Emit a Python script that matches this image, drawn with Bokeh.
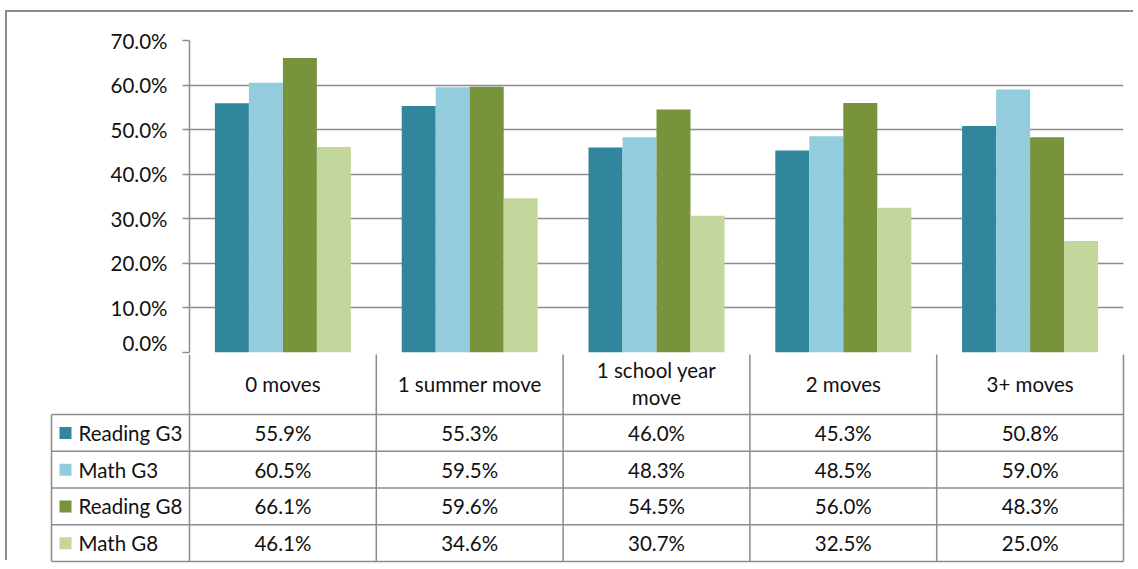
from bokeh.plotting import figure
from bokeh.models import Range1d, FixedTicker, Div
from bokeh.core.properties import value
from bokeh.embed import file_html
from bokeh.resources import INLINE

# ---------------- data ----------------
categories = ["0 moves", "1 summer move", "1 school year\nmove", "2 moves", "3+ moves"]
series_names = ["Reading G3", "Math G3", "Reading G8", "Math G8"]
reading_g3 = [55.9, 55.3, 46.0, 45.3, 50.8]
math_g3 = [60.5, 59.5, 48.3, 48.5, 59.0]
reading_g8 = [66.1, 59.6, 54.5, 56.0, 48.3]
math_g8 = [46.1, 34.6, 30.7, 32.5, 25.0]
y_ticks = [0, 10, 20, 30, 40, 50, 60, 70]
y_tick_labels = ["0.0%", "10.0%", "20.0%", "30.0%", "40.0%", "50.0%", "60.0%", "70.0%"]

series_values = [reading_g3, math_g3, reading_g8, math_g8]
colors = ["#31859C", "#93CDDD", "#77933C", "#C3D69B"]

# ---------------- layout constants ----------------
FONT = "Lato"
FS = "20.5px"
TXT = "#111111"
GRID = "#8c8c8c"
W = 1138
H_TOP = 354
H_BOT = 215
PLOT_LEFT = 189
PLOT_RIGHT = 15
N = len(categories)
CAT_PX = (W - PLOT_LEFT - PLOT_RIGHT) / N
BAR_W = 0.182
LEGEND_COL_PX = 138
HEADER_H = 60
ROW_H = 36.75

# ---------------- bar chart ----------------
p = figure(width=W, height=H_TOP, output_backend="svg", toolbar_location=None,
           x_range=Range1d(0, N), y_range=Range1d(0, 70), x_axis_type=None,
           min_border_left=PLOT_LEFT, min_border_right=PLOT_RIGHT,
           min_border_top=40, min_border_bottom=2, outline_line_color=None,
           border_fill_color=None, background_fill_color=None)

for j, (vals, col) in enumerate(zip(series_values, colors)):
    xs = [i + 0.5 + (j - 1.5) * BAR_W for i in range(N)]
    p.vbar(x=xs, top=vals, bottom=0, width=BAR_W, fill_color=col, line_color=None)

p.xgrid.visible = False
p.ygrid.ticker = FixedTicker(ticks=y_ticks)
p.ygrid.grid_line_color = GRID
p.ygrid.grid_line_width = 1.5
ax = p.yaxis[0]
ax.ticker = FixedTicker(ticks=y_ticks)
ax.major_label_overrides = {t: l for t, l in zip(y_ticks, y_tick_labels)}
ax.axis_line_color = GRID
ax.axis_line_width = 1.5
ax.major_tick_line_color = GRID
ax.major_tick_line_width = 1.5
ax.major_tick_out = 7
ax.major_tick_in = 0
ax.minor_tick_line_color = None
ax.major_label_standoff = 15
ax.major_label_text_font = FONT
ax.major_label_text_font_size = FS
ax.major_label_text_color = TXT

# ---------------- data table ----------------
x0 = -PLOT_LEFT / CAT_PX
x1 = N + PLOT_RIGHT / CAT_PX
t = figure(width=W, height=H_BOT, output_backend="svg", toolbar_location=None,
           x_range=Range1d(x0, x1), y_range=Range1d(H_BOT, 0),
           x_axis_type=None, y_axis_type=None,
           min_border_left=0, min_border_right=0, min_border_top=0, min_border_bottom=0,
           outline_line_color=None, border_fill_color=None, background_fill_color=None)
t.grid.visible = False

leg_left = -LEGEND_COL_PX / CAT_PX
bottom = HEADER_H + len(series_names) * ROW_H
vx = list(range(N + 1))
t.segment(x0=vx, y0=[-2] * len(vx), x1=vx, y1=[bottom] * len(vx), line_color=GRID, line_width=1.5)
t.segment(x0=[leg_left], y0=[HEADER_H], x1=[leg_left], y1=[bottom], line_color=GRID, line_width=1.5)
hy = [HEADER_H + k * ROW_H for k in range(len(series_names) + 1)]
t.segment(x0=[leg_left] * len(hy), y0=hy, x1=[N] * len(hy), y1=hy, line_color=GRID, line_width=1.5)

t.text(x=[i + 0.5 for i in range(N)], y=[HEADER_H / 2 - 1] * N, text=categories,
       text_align="center", text_baseline="middle", text_font=value(FONT),
       text_font_size=FS, text_color=TXT, text_line_height=1.12)

for k, (name, vals, col) in enumerate(zip(series_names, series_values, colors)):
    yc = HEADER_H + (k + 0.5) * ROW_H
    t.text(x=[i + 0.5 for i in range(N)], y=[yc] * N, text=[f"{v:.1f}%" for v in vals],
           text_align="center", text_baseline="middle", text_font=value(FONT),
           text_font_size=FS, text_color=TXT)
    t.rect(x=[leg_left + 14 / CAT_PX], y=[yc], width=12, height=12,
           width_units="screen", height_units="screen", fill_color=col, line_color=None)
    t.text(x=[leg_left + 27 / CAT_PX], y=[yc], text=[name], text_align="left",
           text_baseline="middle", text_font=value(FONT), text_font_size=FS, text_color=TXT)

frame_div = Div(text="", width=1128, height=550, margin=0,
                styles={"position": "absolute", "left": "5px", "top": "10px",
                        "border-left": "2px solid #8c8c8c", "border-top": "2px solid #8c8c8c",
                        "z-index": "-1"})

open("out.html", "w").write(file_html([frame_div, p, t], INLINE))
